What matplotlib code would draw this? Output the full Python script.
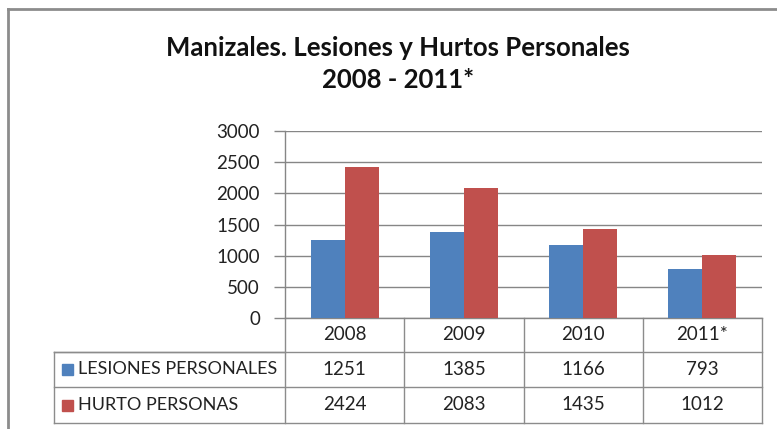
import matplotlib
matplotlib.use("Agg")
import matplotlib.pyplot as plt
from matplotlib.lines import Line2D
from matplotlib.patches import Rectangle

years = ["2008", "2009", "2010", "2011*"]
series_names = ["LESIONES PERSONALES", "HURTO PERSONAS"]
lesiones = [1251, 1385, 1166, 793]
hurto = [2424, 2083, 1435, 1012]
y_ticks = [0, 500, 1000, 1500, 2000, 2500, 3000]

BLUE = "#4F81BD"
RED = "#C0504D"
GRID = "#868686"
FONT = "Lato"

W, H = 777, 429
fig = plt.figure(figsize=(W / 100, H / 100), dpi=100)


def fx(px):
    return px / W


def fy(py):
    return 1 - py / H


# chart area frame (top and left edges visible)
fig.add_artist(Line2D([fx(8), fx(8)], [fy(9), 0], transform=fig.transFigure, color="#8c8c8c", lw=2))
fig.add_artist(Line2D([fx(8), 1], [fy(9), fy(9)], transform=fig.transFigure, color="#8c8c8c", lw=2))

fig.text(fx(398), fy(48), "Manizales. Lesiones y Hurtos Personales", ha="center", va="center",
         fontsize=18.5, fontweight="bold", family=FONT, color="#111")
fig.text(fx(398), fy(80), "2008 - 2011*", ha="center", va="center",
         fontsize=18.5, fontweight="bold", family=FONT, color="#111")

left, right, top, bottom = 285, 762, 131, 318
ax = fig.add_axes([fx(left), fy(bottom), (right - left) / W, (bottom - top) / H])

x = list(range(len(years)))
bw = 0.285
ax.bar([i - bw / 2 for i in x], lesiones, width=bw, color=BLUE, zorder=3)
ax.bar([i + bw / 2 for i in x], hurto, width=bw, color=RED, zorder=3)

ax.set_xlim(-0.5, len(years) - 0.5)
ax.set_ylim(0, 3000)
ax.set_yticks(y_ticks)
ax.set_yticklabels([str(v) for v in y_ticks], family=FONT, fontsize=13.5, color="#222")
ax.set_xticks([])
ax.tick_params(axis="y", length=8, width=1, color=GRID, pad=10)
ax.grid(axis="y", color=GRID, lw=1, zorder=0)
for side in ["top", "right"]:
    ax.spines[side].set_visible(False)
for side in ["left", "bottom"]:
    ax.spines[side].set_color(GRID)
    ax.spines[side].set_linewidth(1)

# data table below the plot, in axes-fraction coordinates
row_h = [(352 - 318) / (bottom - top), (387 - 318) / (bottom - top), (423 - 318) / (bottom - top)]
label_left = (54 - left) / (right - left)
tc = "#8c8c8c"


def hline(x0, x1, y):
    ax.add_line(Line2D([x0, x1], [y, y], transform=ax.transAxes, color=tc, lw=1, clip_on=False))


def vline(xx, y0, y1):
    ax.add_line(Line2D([xx, xx], [y0, y1], transform=ax.transAxes, color=tc, lw=1, clip_on=False))


n = len(years)
for r in row_h:
    hline(label_left, 1, -r)
hline(label_left, 0, -row_h[0])
vline(0, 0, -row_h[2])
vline(label_left, -row_h[0], -row_h[2])
for k in range(1, n + 1):
    vline(k / n, 0, -row_h[2])

row_mid = [-(row_h[0]) / 2, -(row_h[0] + row_h[1]) / 2, -(row_h[1] + row_h[2]) / 2]
for k, yr in enumerate(years):
    ax.text((k + 0.5) / n, row_mid[0], yr, transform=ax.transAxes, ha="center", va="center",
            family=FONT, fontsize=13.5, color="#222")
    ax.text((k + 0.5) / n, row_mid[1], str(lesiones[k]), transform=ax.transAxes, ha="center",
            va="center", family=FONT, fontsize=13.5, color="#222")
    ax.text((k + 0.5) / n, row_mid[2], str(hurto[k]), transform=ax.transAxes, ha="center",
            va="center", family=FONT, fontsize=13.5, color="#222")

sq_w = 11 / (right - left)
sq_h = 11 / (bottom - top)
for name, col, ym in [(series_names[0], BLUE, row_mid[1]), (series_names[1], RED, row_mid[2])]:
    ax.add_patch(Rectangle(((62 - left) / (right - left), ym - sq_h / 2), sq_w, sq_h,
                           transform=ax.transAxes, color=col, clip_on=False))
    ax.text((78 - left) / (right - left), ym, name, transform=ax.transAxes, ha="left", va="center",
            family=FONT, fontsize=13, color="#222")

fig.savefig("out.png", dpi=100)
